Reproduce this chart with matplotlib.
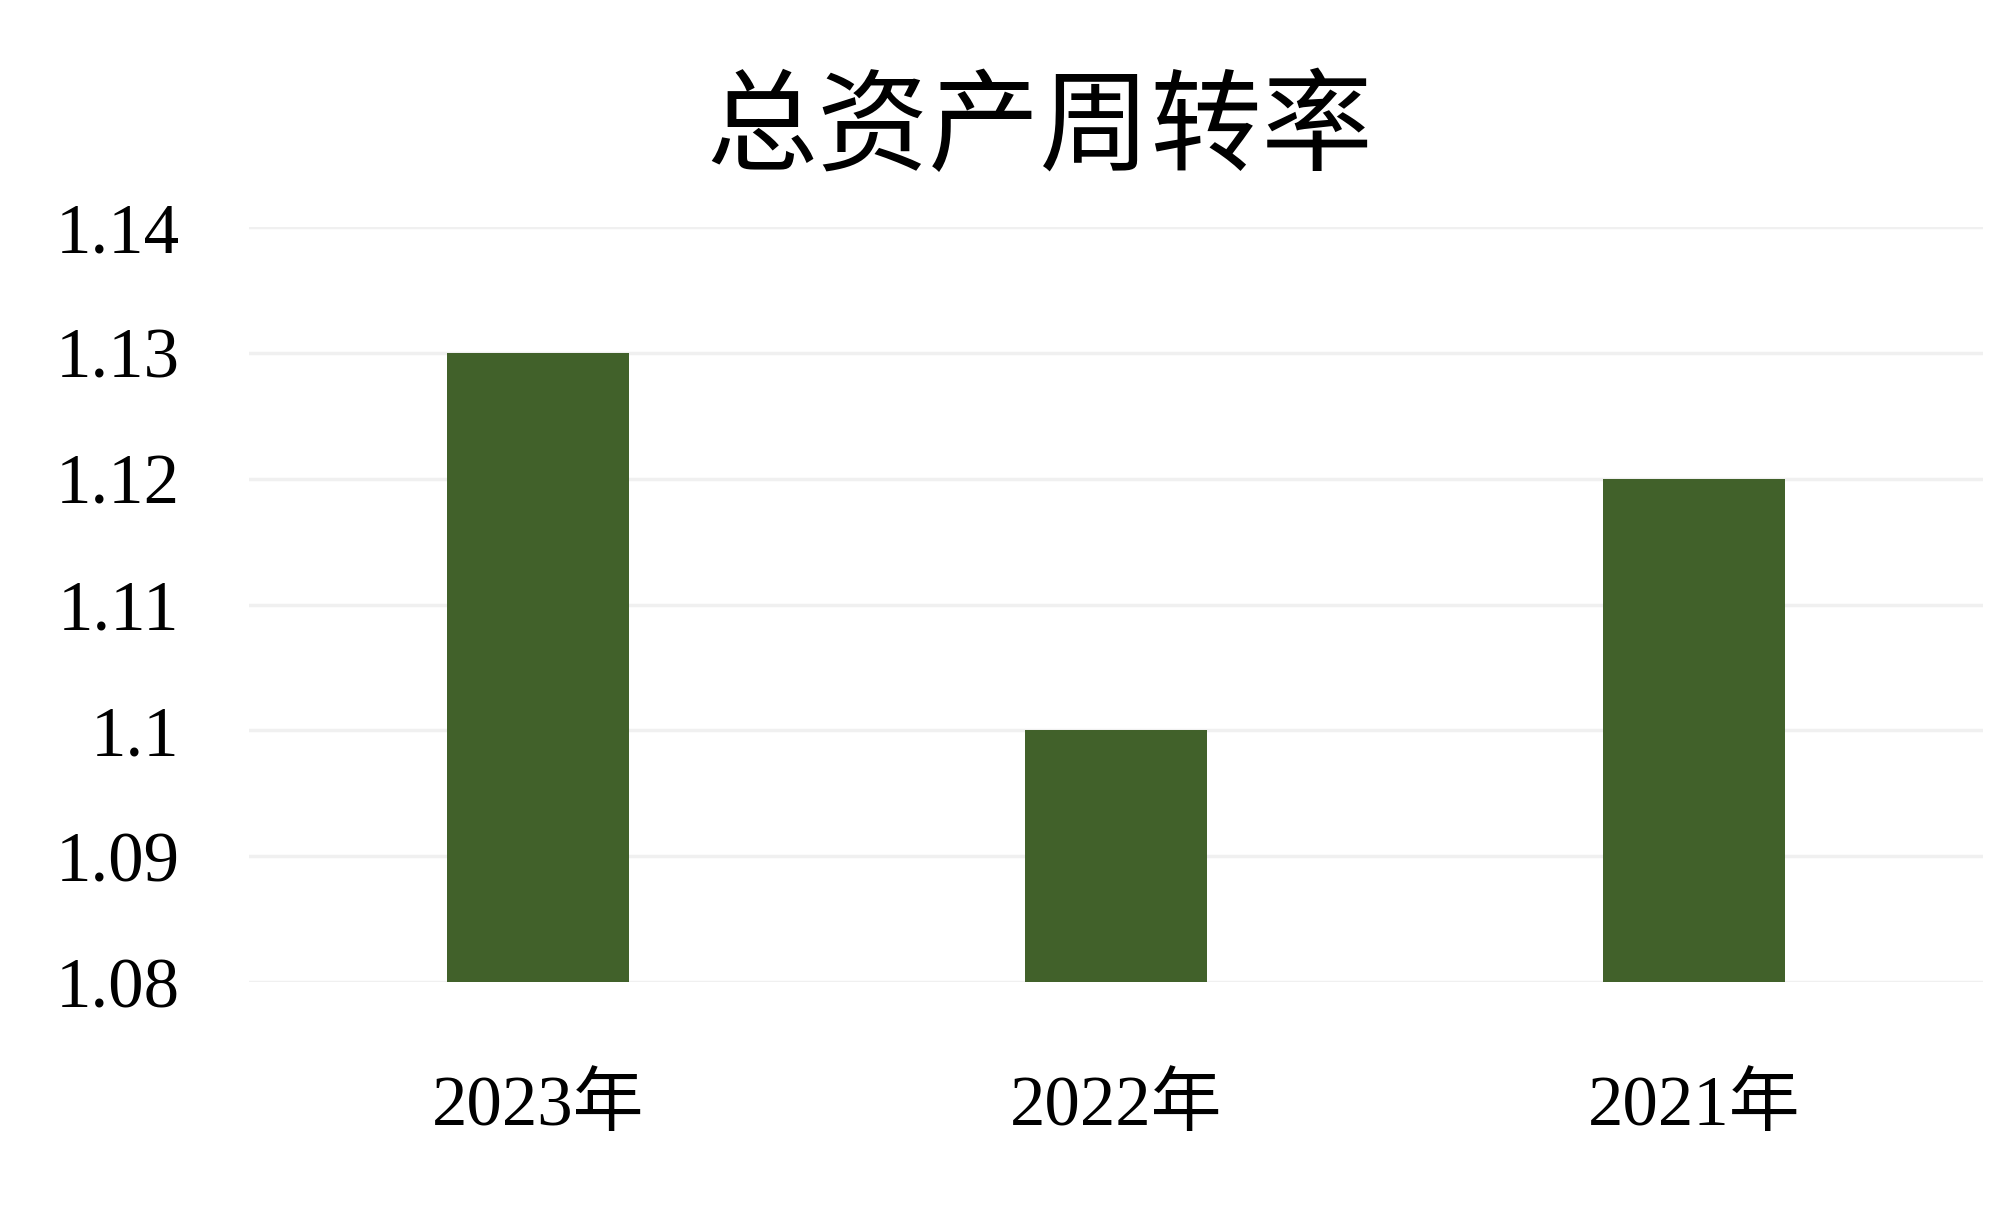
import matplotlib.pyplot as plt

# data
years = ['2023年', '2022年', '2021年']
turnover = [1.13, 1.10, 1.12]
y_ticks = [1.08, 1.09, 1.10, 1.11, 1.12, 1.13, 1.14]
y_tick_labels = ['1.08', '1.09', '1.1', '1.11', '1.12', '1.13', '1.14']

plt.rcParams['font.family'] = ['Liberation Serif', 'Noto Sans CJK SC']

fig = plt.figure(figsize=(20, 12.14), dpi=100)
ax = fig.add_axes([0.1245, 0.191, 0.867, 0.622])

x = range(len(years))
ax.bar(x, [v - 1.08 for v in turnover], bottom=1.08, width=0.315,
       color='#41612A', zorder=3)

ax.set_xlim(-0.5, len(years) - 0.5)
ax.set_ylim(1.08, 1.14)
ax.set_yticks(y_ticks)
ax.set_yticklabels(y_tick_labels)
ax.set_xticks(list(x))
ax.set_xticklabels(years)

ax.grid(axis='y', color='#F0F0F0', linewidth=2.5, zorder=0)
ax.set_axisbelow(True)
for s in ax.spines.values():
    s.set_visible(False)
ax.tick_params(axis='both', length=0, labelsize=51, colors='black')
ax.tick_params(axis='y', pad=50)
ax.tick_params(axis='x', pad=66)

fig.text(0.52, 0.893, '总资产周转率', ha='center', va='center', fontsize=80,
         family=['Noto Sans CJK SC'], color='black')

fig.savefig('out.png', dpi=100, facecolor='white')
